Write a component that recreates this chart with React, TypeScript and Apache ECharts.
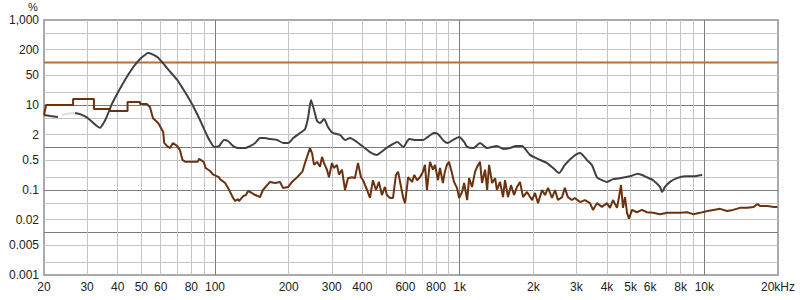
import React, { useEffect, useRef } from "react";
import * as echarts from "echarts";

// ---- axis ticks / labels ----
const xLabelValues = [20, 30, 40, 50, 60, 80, 100, 200, 300, 400, 600, 800, 1000, 2000, 3000, 4000, 5000, 6000, 8000, 10000, 20000];
const xLabelTexts = ["20", "30", "40", "50", "60", "80", "100", "200", "300", "400", "600", "800", "1k", "2k", "3k", "4k", "5k", "6k", "8k", "10k", "20kHz"];
const xMinorGrid = [30, 40, 50, 60, 70, 80, 90, 200, 300, 400, 500, 600, 700, 800, 900, 2000, 3000, 4000, 5000, 6000, 7000, 8000, 9000];
const xMajorGrid = [100, 1000, 10000];

const yLabelValues = [0.001, 0.005, 0.02, 0.1, 0.5, 2, 10, 50, 200, 1000];
const yLabelTexts = ["0.001", "0.005", "0.02", "0.1", "0.5", "2", "10", "50", "200", "1,000"];
const yMinorGrid = [0.002, 0.005, 0.02, 0.05, 0.2, 0.5, 2, 5, 20, 50, 200, 500];
const yMajorGrid = [0.01, 0.1, 1, 10, 100];

// ---- series: [frequency Hz, percent] ----
const limitLine: [number, number][] = [[20, 100], [20000, 100]];

const greyStart: [number, number][] = [[20, 5.8], [21.2, 5.5], [22.8, 5.2]];
const greyFaint: [number, number][] = [[23.7, 5.8], [25.1, 6.3], [26.8, 6.5]];
const greyMain: [number, number][] = [
  [26.8, 6.5], [28.1, 6.1], [29.8, 5.2], [31.5, 4.0], [32.9, 3.2], [33.9, 2.9], [34.9, 3.6], [36.2, 5.5],
  [37.9, 10.6], [39.8, 18.2], [41.7, 29.5], [44.1, 50.8], [46.7, 82.7], [49.4, 121], [51.7, 150], [53.2, 167],
  [55.3, 158], [58.1, 135], [60.7, 103], [63.7, 74], [66.8, 53.6], [70.1, 38.7], [73.6, 25.1], [77.1, 16.3],
  [80.9, 10], [84.9, 5.8], [89.1, 3.2], [93.4, 1.77], [97, 1.21], [99.3, 1.03], [103.8, 1.08], [108.8, 1.5],
  [113, 1.42], [118.6, 1.08], [124.2, 0.97], [132.8, 0.97], [139, 1.08], [145.9, 1.28], [152.7, 1.67],
  [160, 1.67], [167.8, 1.58], [179.4, 1.5], [190, 1.28], [199.3, 1.28], [208.8, 1.67], [222.5, 2.19],
  [233.2, 2.7], [240, 4.94], [246.8, 13.1], [254, 7.63], [261.4, 4.2], [268.6, 3.77], [279, 4.68],
  [289.5, 3.04], [303, 2.19], [324, 1.97], [340, 1.5], [356, 1.67], [380, 1.35], [404, 1.03], [430, 0.78],
  [459, 0.67], [472, 0.74], [510, 1.03], [556, 1.35], [588, 1.03], [622, 1.58], [663, 1.5], [708, 1.5],
  [749, 1.86], [785, 2.19], [815, 2.08], [862, 1.42], [895, 1.28], [938, 1.5], [995, 1.77], [1043, 1.35],
  [1073, 1.03], [1137, 0.97], [1211, 1.28], [1295, 0.97], [1420, 1.08], [1518, 0.92], [1606, 0.97],
  [1699, 1.08], [1798, 1.08], [1938, 0.67], [2130, 0.51], [2276, 0.43], [2410, 0.33], [2546, 0.25],
  [2691, 0.39], [2900, 0.6], [3103, 0.74], [3310, 0.51], [3470, 0.39], [3640, 0.2], [3815, 0.17],
  [3997, 0.155], [4233, 0.18], [4521, 0.19], [4967, 0.21], [5350, 0.24], [5825, 0.2], [6170, 0.17],
  [6588, 0.118], [6713, 0.09], [6905, 0.118], [7238, 0.155], [7720, 0.19], [8340, 0.21], [9000, 0.21],
  [9800, 0.226]
];

const brown: [number, number][] = [
  [20, 5.8], [20.4, 10], [26.3, 10], [26.3, 13.8], [32.0, 13.8], [32.0, 8.05], [37.2, 8.05], [37.2, 7.2],
  [43.9, 7.2], [43.9, 11.8], [49.4, 11.8], [49.4, 10.6], [52.6, 10.6], [54.2, 9.0], [55.8, 4.9], [58.6, 3.77],
  [61.4, 2.32], [62, 1.28], [63.7, 1.08], [65.5, 0.97], [67.3, 1.28], [70.1, 1.08], [71.9, 0.87], [73.6, 0.51],
  [75.7, 0.46], [84.9, 0.46], [86, 0.54], [89.9, 0.46], [91.6, 0.33], [95.4, 0.28], [98.3, 0.23], [103.8, 0.2],
  [104.8, 0.18], [110, 0.146], [113, 0.112], [118.6, 0.065], [120.8, 0.055], [124.2, 0.061], [125.3, 0.055],
  [130.4, 0.072], [133.8, 0.076], [136.4, 0.095], [141.6, 0.085], [145.9, 0.076], [150, 0.072], [152.7, 0.068],
  [157, 0.1], [167.8, 0.155], [176, 0.146], [184.3, 0.155], [189.5, 0.112], [199.3, 0.118], [206.3, 0.155],
  [216.7, 0.2], [227.6, 0.27], [233.2, 0.43], [237.7, 0.6], [244.5, 0.97], [249.2, 0.74], [254, 0.39],
  [261.4, 0.46], [268.6, 0.35], [273.7, 0.6], [279, 0.43], [286.8, 0.3], [292.3, 0.2], [300.6, 0.43],
  [306.3, 0.33], [315, 0.39], [321, 0.23], [330.3, 0.3], [340, 0.1], [349.5, 0.19], [363, 0.2], [373, 0.19],
  [384, 0.43], [395, 0.2], [402.8, 0.17], [418.3, 0.1], [430, 0.065], [442, 0.17], [455, 0.1], [467.6, 0.155],
  [481, 0.076], [494.6, 0.118], [504, 0.076], [519, 0.065], [534, 0.065], [549, 0.226], [560, 0.27],
  [576, 0.118], [588, 0.065], [598, 0.049], [616, 0.2], [639, 0.155], [652, 0.226], [670, 0.17], [688, 0.2],
  [708, 0.27], [721, 0.39], [735, 0.1], [756, 0.46], [778, 0.3], [793, 0.39], [815, 0.17], [831, 0.33],
  [854, 0.146], [870, 0.27], [887, 0.39], [904, 0.46], [930, 0.25], [948, 0.155], [975, 0.112], [995, 0.065],
  [1023, 0.09], [1043, 0.146], [1073, 0.058], [1093, 0.19], [1123, 0.118], [1156, 0.27], [1178, 0.35],
  [1211, 0.46], [1234, 0.146], [1270, 0.3], [1295, 0.1], [1319, 0.39], [1357, 0.146], [1396, 0.19],
  [1420, 0.1], [1462, 0.155], [1504, 0.068], [1532, 0.17], [1576, 0.068], [1621, 0.13], [1668, 0.076],
  [1715, 0.118], [1764, 0.155], [1815, 0.068], [1884, 0.09], [1975, 0.058], [2032, 0.085], [2090, 0.049],
  [2171, 0.1], [2233, 0.076], [2297, 0.112], [2385, 0.065], [2453, 0.1], [2522, 0.058], [2620, 0.068],
  [2691, 0.112], [2768, 0.068], [2874, 0.058], [2955, 0.065], [3103, 0.052], [3250, 0.058], [3409, 0.049],
  [3506, 0.034], [3640, 0.049], [3815, 0.04], [3997, 0.049], [4115, 0.038], [4233, 0.058], [4395, 0.038],
  [4479, 0.068], [4564, 0.131], [4650, 0.038], [4740, 0.068], [4830, 0.029], [4920, 0.021], [5060, 0.034],
  [5300, 0.03], [5560, 0.034], [5825, 0.03], [6170, 0.029], [6588, 0.027], [7060, 0.029], [7480, 0.029],
  [7952, 0.029], [8510, 0.03], [9000, 0.027], [9600, 0.029], [10290, 0.032], [10900, 0.034], [11587, 0.036],
  [12400, 0.032], [13100, 0.034], [13987, 0.038], [14990, 0.038], [15900, 0.04], [16500, 0.047],
  [16884, 0.042], [18100, 0.042], [19300, 0.04], [19900, 0.04]
];

const LOG = (v: number) => Math.log10(v);
const toLog = (arr: [number, number][]) => arr.map(([f, v]) => [LOG(f), LOG(v)]);

function labelFor(values: number[], texts: string[], v: number) {
  for (let i = 0; i < values.length; i++) {
    if (Math.abs(LOG(values[i]) - v) < 1e-6) return texts[i];
  }
  return "";
}

const FONT = "Liberation Sans, Arial, sans-serif";
const TEXT = "#222";
const MINOR = "#c4c4c4";
const MAJOR = "#7c7c7c";

export default function App() {
  const ref = useRef<HTMLDivElement>(null);
  useEffect(() => {
    document.body.style.margin = "0";
    const chart = echarts.init(ref.current!, null, { renderer: "svg" });
    const xMin = LOG(20), xMax = LOG(20000);
    const yMin = LOG(0.001), yMax = LOG(1000);
    const hidden = { show: false };
    chart.setOption({
      animation: false,
      grid: {
        left: 44, top: 20, right: 22, bottom: 25,
        show: true, backgroundColor: "#fff", borderColor: "#aaaaaa", borderWidth: 2
      },
      graphic: [
        {
          type: "text", x: 33, y: 7,
          style: { text: "%", font: `11px ${FONT}`, fill: TEXT, textAlign: "center", textVerticalAlign: "middle" }
        }
      ],
      xAxis: [
        {
          type: "value", min: xMin, max: xMax,
          axisLine: hidden,
          axisTick: { show: false, customValues: xMinorGrid.map(LOG) },
          splitLine: { show: true, lineStyle: { color: MINOR, width: 1 } },
          axisLabel: {
            customValues: xLabelValues.map(LOG), margin: 6,
            color: TEXT, fontSize: 12, fontFamily: FONT,
            formatter: (v: number) => labelFor(xLabelValues, xLabelTexts, v)
          }
        },
        {
          type: "value", min: xMin, max: xMax, position: "bottom",
          axisLine: hidden, axisLabel: hidden,
          axisTick: { show: false, customValues: xMajorGrid.map(LOG) },
          splitLine: { show: true, lineStyle: { color: MAJOR, width: 1 } }
        }
      ],
      yAxis: [
        {
          type: "value", min: yMin, max: yMax,
          axisLine: hidden,
          axisTick: { show: false, customValues: yMinorGrid.map(LOG) },
          splitLine: { show: true, lineStyle: { color: MINOR, width: 1 } },
          axisLabel: {
            customValues: yLabelValues.map(LOG), margin: 5,
            color: TEXT, fontSize: 12, fontFamily: FONT,
            formatter: (v: number) => labelFor(yLabelValues, yLabelTexts, v)
          }
        },
        {
          type: "value", min: yMin, max: yMax, position: "left",
          axisLine: hidden, axisLabel: hidden,
          axisTick: { show: false, customValues: yMajorGrid.map(LOG) },
          splitLine: { show: true, lineStyle: { color: MAJOR, width: 1 } }
        }
      ],
      series: [
        {
          type: "line", data: toLog(limitLine), showSymbol: false, silent: true,
          lineStyle: { color: "#b3703a", width: 2 }, z: 3
        },
        {
          type: "line", data: toLog(greyStart), showSymbol: false, silent: true, smooth: 0.2,
          lineStyle: { color: "#404040", width: 2 }, z: 4
        },
        {
          type: "line", data: toLog(greyFaint), showSymbol: false, silent: true, smooth: 0.2,
          lineStyle: { color: "#dcdcdc", width: 2 }, z: 4
        },
        {
          type: "line", data: toLog(greyMain), showSymbol: false, silent: true, smooth: 0.2,
          lineStyle: { color: "#404040", width: 2 }, z: 4
        },
        {
          type: "line", data: toLog(brown), showSymbol: false, silent: true,
          lineStyle: { color: "#6b3210", width: 2 }, z: 5
        }
      ]
    });
    return () => chart.dispose();
  }, []);
  return <div ref={ref} style={{ width: 800, height: 300 }} />;
}
